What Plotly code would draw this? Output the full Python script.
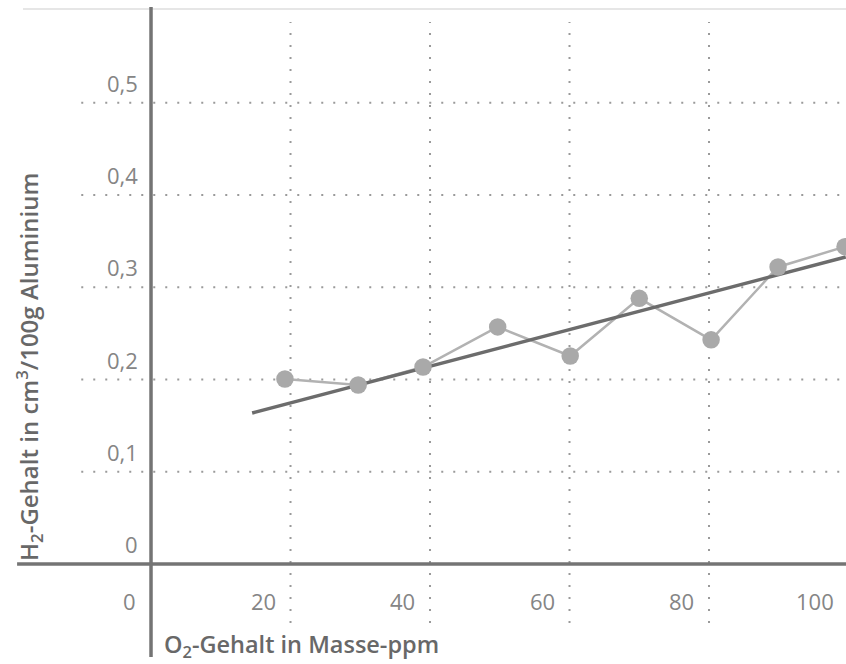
import plotly.graph_objects as go

# O2 content (mass-ppm) and measured H2 content (cm3 / 100 g aluminium)
o2_ppm = [19.2, 29.7, 39.0, 49.7, 60.1, 70.0, 80.3, 89.9, 99.5]
h2_content = [0.2005, 0.194, 0.2135, 0.257, 0.2255, 0.288, 0.243, 0.322, 0.344]

# linear trend line endpoints
fit_x = [14.5, 99.6]
fit_y = [0.1637, 0.3328]

x_ticks = [0, 20, 40, 60, 80, 100]
x_tick_text = ["0", "20", "40", "60", "80", "100"]
y_ticks = [0, 0.1, 0.2, 0.3, 0.4, 0.5]
y_tick_text = ["0", "0,1", "0,2", "0,3", "0,4", "0,5"]

X_RANGE = [-21.65, 99.64]
Y_RANGE = [-0.1084, 0.6114]

FONT = "Open Sans"
TICK_COLOR = "#858585"
TITLE_COLOR = "#686868"
GRID_COLOR = "#9a9a9a"
AXIS_COLOR = "#747474"


def x_paper(v):
    return (v - X_RANGE[0]) / (X_RANGE[1] - X_RANGE[0])


def y_paper(v):
    return (v - Y_RANGE[0]) / (Y_RANGE[1] - Y_RANGE[0])


fig = go.Figure()

# connecting line between measurements
fig.add_trace(go.Scatter(
    x=o2_ppm, y=h2_content, mode="lines",
    line=dict(color="#b2b2b2", width=2.5),
    hoverinfo="skip", showlegend=False,
))
# trend line
fig.add_trace(go.Scatter(
    x=fit_x, y=fit_y, mode="lines",
    line=dict(color="#6c6c6c", width=3.5),
    hoverinfo="skip", showlegend=False,
))
# measurement markers
fig.add_trace(go.Scatter(
    x=o2_ppm, y=h2_content, mode="markers",
    marker=dict(size=17.5, color="#a9a9a9", line=dict(width=0)),
    cliponaxis=False, showlegend=False,
))

shapes = []
# horizontal dotted grid
for yv in y_ticks[1:]:
    shapes.append(dict(type="line", xref="x", yref="y",
                       x0=-10, x1=X_RANGE[1], y0=yv, y1=yv,
                       line=dict(color=GRID_COLOR, width=2, dash="2px,10px"),
                       layer="below"))
# vertical dotted grid
for xv in x_ticks[1:]:
    shapes.append(dict(type="line", xref="x", yref="y",
                       x0=xv, x1=xv, y0=-0.064, y1=0.5875,
                       line=dict(color=GRID_COLOR, width=2, dash="2px,10px"),
                       layer="below"))
# axis cross
shapes.append(dict(type="line", xref="x", yref="y",
                   x0=-19.2, x1=X_RANGE[1], y0=0, y1=0,
                   line=dict(color=AXIS_COLOR, width=3.5)))
shapes.append(dict(type="line", xref="x", yref="y",
                   x0=0, x1=0, y0=-0.1008, y1=0.6038,
                   line=dict(color=AXIS_COLOR, width=3.5)))
# faint page edge at the top
shapes.append(dict(type="line", xref="paper", yref="paper",
                   x0=23 / 846, x1=1, y0=1 - 9 / 664, y1=1 - 9 / 664,
                   line=dict(color="#e6e6e6", width=2), layer="below"))

annotations = []
for xv, txt in zip(x_ticks, x_tick_text):
    annotations.append(dict(x=x_paper(xv), y=y_paper(0), xref="paper", yref="paper",
                            text=txt, showarrow=False,
                            xanchor="right", yanchor="middle",
                            xshift=-13, yshift=-37,
                            font=dict(family=FONT, size=22, color=TICK_COLOR)))
for yv, txt in zip(y_ticks, y_tick_text):
    annotations.append(dict(x=x_paper(0), y=y_paper(yv), xref="paper", yref="paper",
                            text=txt, showarrow=False,
                            xanchor="right", yanchor="middle",
                            xshift=-11, yshift=20,
                            font=dict(family=FONT, size=22, color=TICK_COLOR)))

annotations.append(dict(
    x=x_paper(0), y=y_paper(0), xref="paper", yref="paper",
    xanchor="left", yanchor="middle",
    xshift=11, yshift=-81, showarrow=False,
    text="O<sub>2</sub>-Gehalt in Masse-ppm",
    font=dict(family=FONT, size=23.5, color=TITLE_COLOR, weight=600),
))
annotations.append(dict(
    x=29 / 846, y=1 - 367 / 664, xref="paper", yref="paper",
    xanchor="center", yanchor="middle", textangle=-90, showarrow=False,
    text="H<sub>2</sub>-Gehalt in cm<sup>3</sup>/100g Aluminium",
    font=dict(family=FONT, size=24, color=TITLE_COLOR, weight=600),
))

fig.update_layout(
    width=846, height=664,
    margin=dict(l=0, r=0, t=0, b=0),
    paper_bgcolor="white", plot_bgcolor="white",
    shapes=shapes, annotations=annotations,
    xaxis=dict(range=X_RANGE, visible=False, fixedrange=True),
    yaxis=dict(range=Y_RANGE, visible=False, fixedrange=True),
    showlegend=False,
)

fig.write_html("out.html", config=dict(displayModeBar=False))
